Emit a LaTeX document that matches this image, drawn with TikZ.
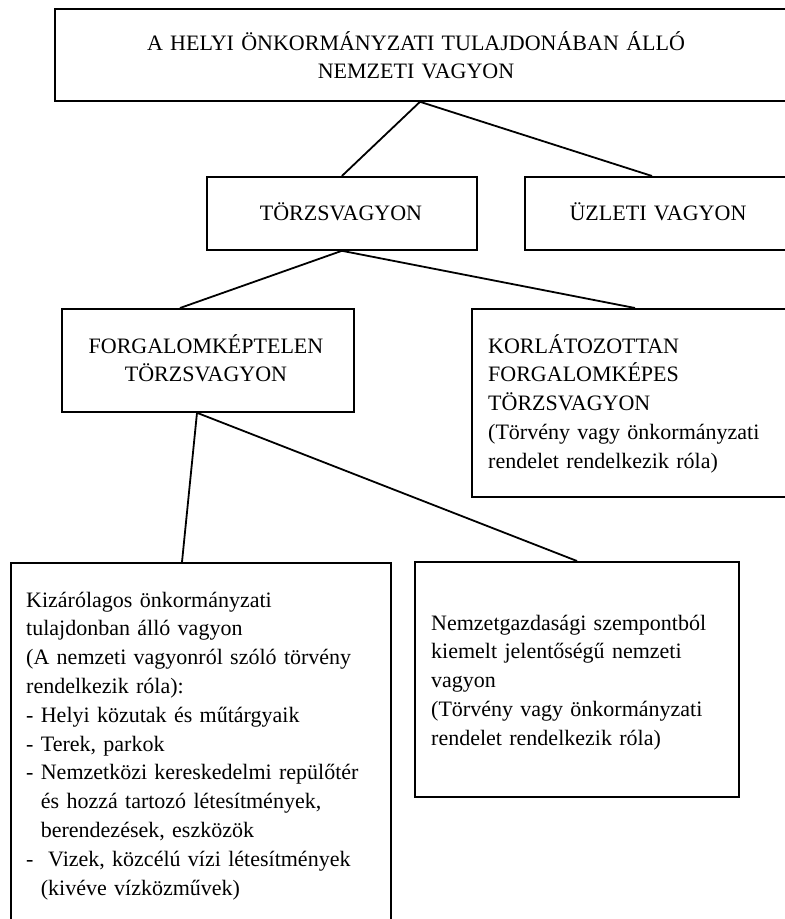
\documentclass[tikz,border=0pt]{standalone}
\usepackage{fontspec}
\setmainfont{Liberation Serif}
\usetikzlibrary{calc}
\tikzset{
  box/.style={draw, line width=1.8pt, inner sep=0pt, anchor=north west},
  link/.style={line width=1.8pt},
  txt/.style={inner sep=0pt, font=\fontsize{22}{28.8}\selectfont},
  ltxt/.style={txt, anchor=base west, text width=500pt, align=left},
  ctxt/.style={txt, anchor=base, text width=700pt, align=center},
}
\newcommand{\ind}{\phantom{- }}
\begin{document}
\begin{tikzpicture}[x=1pt, y=-1pt]
\useasboundingbox (0,0) rectangle (785,919);
\clip (0,0) rectangle (785,919);
\fill[white] (0,0) rectangle (785,919);

% boxes
\node[box, minimum width=746pt, minimum height=92pt] (top) at (54,8) {};
\node[box, minimum width=270pt, minimum height=73pt] (tz) at (206,176) {};
\node[box, minimum width=276pt, minimum height=73pt] (uz) at (524,176) {};
\node[box, minimum width=292pt, minimum height=103pt] (fk) at (61,308) {};
\node[box, minimum width=329pt, minimum height=188pt] (kf) at (471,308) {};
\node[box, minimum width=380pt, minimum height=380pt] (kiz) at (10,562) {};
\node[box, minimum width=324pt, minimum height=235pt] (nem) at (414,561) {};

% texts
\node[ctxt] (top-t) at (416,50) {A HELYI ÖNKORMÁNYZATI TULAJDONÁBAN ÁLLÓ\\NEMZETI VAGYON};
\node[ctxt] (tz-t) at (341,220) {TÖRZSVAGYON};
\node[ctxt] (uz-t) at (658,220) {ÜZLETI VAGYON};
\node[ctxt] (fk-t) at (206,353) {FORGALOMKÉPTELEN\\TÖRZSVAGYON};
\node[ltxt] (kf-t) at (488,353) {KORLÁTOZOTTAN\\FORGALOMKÉPES\\TÖRZSVAGYON\\(Törvény vagy önkormányzati\\rendelet rendelkezik róla)};
\node[ltxt] (kiz-t) at (26,607) {Kizárólagos önkormányzati\\tulajdonban álló vagyon\\(A nemzeti vagyonról szóló törvény\\rendelkezik róla):\\- Helyi közutak és műtárgyaik\\- Terek, parkok\\- Nemzetközi kereskedelmi repülőtér\\\ind és hozzá tartozó létesítmények,\\\ind berendezések, eszközök\\-\ \ Vizek, közcélú vízi létesítmények\\\ind(kivéve vízközművek)};
\node[ltxt] (nem-t) at (431,630) {Nemzetgazdasági szempontból\\kiemelt jelentőségű nemzeti\\vagyon\\(Törvény vagy önkormányzati\\rendelet rendelkezik róla)};

% connectors
\draw[link] ($(top.south west)+(366,0)$) -- (tz.north);
\draw[link] ($(top.south west)+(366,0)$) -- ($(uz.north west)+(128,0)$);
\draw[link] (tz.south) -- ($(fk.north west)+(119,0)$);
\draw[link] (tz.south) -- ($(kf.north west)+(164,0)$);
\draw[link] ($(fk.south west)+(136,0)$) -- ($(kiz.north west)+(172,0)$);
\draw[link] ($(fk.south west)+(136,0)$) -- ($(nem.north west)+(163,0)$);
\end{tikzpicture}
\end{document}
